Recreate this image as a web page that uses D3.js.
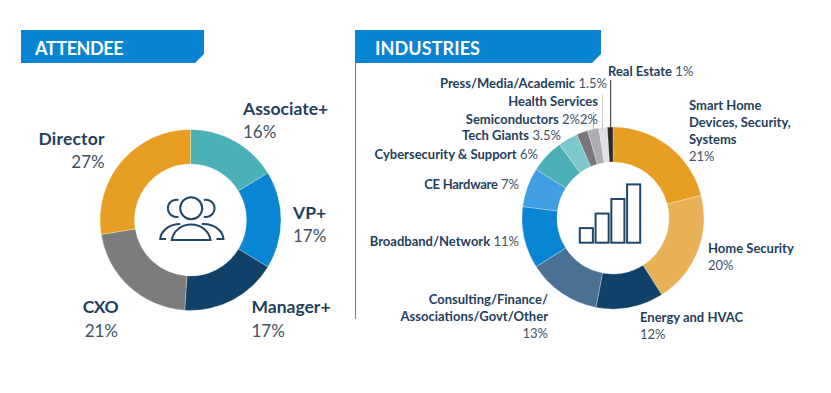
<!DOCTYPE html>
<html>
<head>
<meta charset="utf-8">
<script src="https://cdn.jsdelivr.net/npm/d3@7"></script>
<style>
    html, body { margin: 0; background: #fff; }
    svg { display: block; }
    text { font-family: Lato, "Open Sans", sans-serif; }
    .name { font-weight: 700; fill: #1f3f5c; }
    .pct { font-weight: 400; fill: #3e5163; }
</style>
</head>
<body>
<div id="chart"></div>
<script>
const attendeeNames = ["Associate+", "VP+", "Manager+", "CXO", "Director"];
const attendeeValues = [16, 17, 17, 21, 27];
const attendeeColors = ["#4bb0b8", "#0885d3", "#0f4169", "#7c7c7c", "#e69f22"];

const industryNames = ["Smart Home Devices, Security, Systems", "Home Security", "Energy and HVAC",
    "Consulting/Finance/Associations/Govt/Other", "Broadband/Network", "CE Hardware",
    "Cybersecurity & Support", "Tech Giants", "Semiconductors", "Health Services",
    "Press/Media/Academic", "Real Estate"];
const industryValues = [21, 20, 12, 13, 11, 7, 6, 3.5, 2, 2, 1.5, 1];
const industryColors = ["#e69f22", "#e9b157", "#0f4169", "#4a7094", "#0885d3", "#3f9fe2",
    "#4bb0b8", "#7cc8ca", "#77777b", "#adadb1", "#e1e1e4", "#2f2a24"];

const iconBarHeights = [1, 2, 3, 4];

const width = 831, height = 393;
const svg = d3.select("#chart").append("svg")
    .attr("width", width)
    .attr("height", height);

// banner with the clipped bottom right corner
function drawBanner(x, w, label, spacing) {
    let y = 30, h = 33, cut = 9;
    svg.append("path")
        .attr("d", d3.line()([[x, y], [x + w, y], [x + w, y + h - cut], [x + w - cut, y + h], [x, y + h]]) + "Z")
        .attr("fill", "#0884d2");
    svg.append("text")
        .attr("x", x + (w > 200 ? 20 : 14))
        .attr("y", y + 25)
        .attr("fill", "#fff")
        .attr("font-size", 18)
        .attr("font-weight", 700)
        .attr("letter-spacing", spacing)
        .text(label);
}

function drawDonut(cx, cy, outer, inner, values, colors) {
    let pie = d3.pie().sort(null)(values);
    let arc = d3.arc().innerRadius(inner).outerRadius(outer);
    let g = svg.append("g").attr("transform", `translate(${cx},${cy})`);
    g.selectAll("path")
        .data(pie)
        .enter().append("path")
        .attr("d", arc)
        .attr("fill", (d, i) => colors[i])
        .attr("stroke", "#fff")
        .attr("stroke-opacity", 0.45)
        .attr("stroke-width", 0.6);
    return g;
}

// lines: [name lines], pct string, anchor, x, baseline of first line, line step
function drawLabel(l) {
    let t = svg.append("text")
        .attr("text-anchor", l.anchor)
        .attr("font-size", l.size);
    l.lines.forEach((line, i) => {
        t.append("tspan")
            .attr("class", "name")
            .attr("x", l.x)
            .attr("y", l.y + i * l.step)
            .attr("letter-spacing", l.spacing || 0)
            .text(line);
    });
    if (l.pct && l.pctInline) {
        t.append("tspan").attr("class", "pct").text(" " + l.pct);
    } else if (l.pct) {
        t.append("tspan")
            .attr("class", "pct")
            .attr("x", l.x)
            .attr("y", l.y + l.lines.length * l.step)
            .attr("font-size", l.pctSize || l.size)
            .text(l.pct);
    }
}

drawBanner(21, 183, "ATTENDEE", -0.4);
drawBanner(355, 246, "INDUSTRIES", 0.1);

svg.append("line")
    .attr("x1", 355.5).attr("x2", 355.5)
    .attr("y1", 63).attr("y2", 319)
    .attr("stroke", "#77797c")
    .attr("stroke-width", 1);

// ---- attendee donut
let leftDonut = drawDonut(190.5, 220, 90.5, 56, attendeeValues, attendeeColors);

let iconColor = "#1f4768";
let people = leftDonut.append("g")
    .attr("fill", "none")
    .attr("stroke", iconColor)
    .attr("stroke-width", 2);
people.append("circle").attr("cx", 0.7).attr("cy", -11.7).attr("r", 11);
people.append("path").attr("d", "M-12,-20A8.6,8.6 0 1 0 -12,-3.3");
people.append("path").attr("d", "M13.4,-20A8.6,8.6 0 1 1 13.4,-3.3");
people.append("path").attr("d", "M-18.7,20A19.5,17.7 0 0 1 20,20Z");
people.append("path").attr("d", "M-24.5,19H-30.3A20,16 0 0 1 -10.3,4");
people.append("path").attr("d", "M26,19H33A20,16 0 0 0 11.3,4");

let nameSize = 17.5, pctSize = 17;
[
    {lines: [attendeeNames[0]], pct: attendeeValues[0] + "%", anchor: "start", x: 243, y: 115, step: 23},
    {lines: [attendeeNames[1]], pct: attendeeValues[1] + "%", anchor: "start", x: 293, y: 219, step: 22.5},
    {lines: [attendeeNames[2]], pct: attendeeValues[2] + "%", anchor: "start", x: 251.5, y: 313, step: 23.5},
    {lines: [attendeeNames[3]], pct: attendeeValues[3] + "%", anchor: "end", x: 118, y: 313, step: 23.5, spacing: -0.6},
    {lines: [attendeeNames[4]], pct: attendeeValues[4] + "%", anchor: "end", x: 104.7, y: 145, step: 23, spacing: 0.2}
].forEach(l => drawLabel({...l, size: nameSize, pctSize: pctSize}));

// ---- industries donut
let rightDonut = drawDonut(613, 218, 91, 56, industryValues, industryColors);

// bar icon
let barX = d3.scaleBand().domain(iconBarHeights).range([-33.2, 27.2]).paddingInner(0.17);
let barY = d3.scaleLinear().domain([0, 4]).range([24.7, -33.6]);
rightDonut.append("g").selectAll("rect")
    .data(iconBarHeights)
    .enter().append("rect")
    .attr("x", d => barX(d))
    .attr("y", d => barY(d))
    .attr("width", barX.bandwidth())
    .attr("height", d => barY(0) - barY(d))
    .attr("fill", "none")
    .attr("stroke", iconColor)
    .attr("stroke-width", 2);

// leader lines
[[610.7, 80, 127, "#2f2a24"], [602.5, 95, 130, "#c9c9cc"], [593.5, 112, 129, "#b9b9bd"]].forEach(d => {
    svg.append("line")
        .attr("x1", d[0]).attr("x2", d[0])
        .attr("y1", d[1]).attr("y2", d[2])
        .attr("stroke", d[3])
        .attr("stroke-width", 1);
});

let smallSize = 13;
[
    {lines: ["Smart Home", "Devices, Security,", "Systems"], pct: "21%", anchor: "start", x: 689, y: 110, step: 17},
    {lines: [industryNames[1]], pct: "20%", anchor: "start", x: 708, y: 253, step: 17},
    {lines: [industryNames[2]], pct: "12%", anchor: "start", x: 640, y: 322, step: 17},
    {lines: ["Consulting/Finance/", "Associations/Govt/Other"], pct: "13%", anchor: "end", x: 548, y: 304, step: 17},
    {lines: [industryNames[4]], pct: "11%", pctInline: true, anchor: "end", x: 519, y: 246},
    {lines: [industryNames[5]], pct: "7%", pctInline: true, anchor: "end", x: 519, y: 189, spacing: -0.25},
    {lines: [industryNames[6]], pct: "6%", pctInline: true, anchor: "end", x: 538, y: 159},
    {lines: [industryNames[7]], pct: "3.5%", pctInline: true, anchor: "end", x: 561, y: 140},
    {lines: [industryNames[8]], pct: "2%2%", pctInline: true, anchor: "end", x: 598, y: 124},
    {lines: [industryNames[9]], anchor: "end", x: 598, y: 106},
    {lines: [industryNames[10]], pct: "1.5%", pctInline: true, anchor: "end", x: 607, y: 88},
    {lines: [industryNames[11]], pct: "1%", pctInline: true, anchor: "start", x: 608, y: 76}
].forEach(l => drawLabel({step: 17, ...l, size: smallSize}));
</script>
</body>
</html>
